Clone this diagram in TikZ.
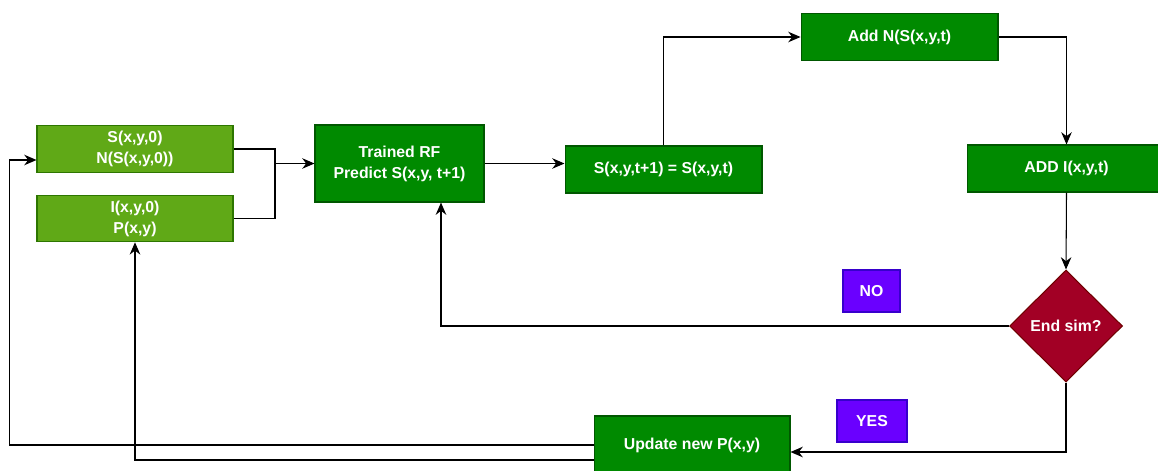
\documentclass[tikz,border=0pt]{standalone}
\usepackage{fontspec}
\setmainfont{Liberation Sans}
\usetikzlibrary{arrows.meta, shapes.geometric}

\definecolor{initgreen}{HTML}{60A917}
\definecolor{initborder}{HTML}{2D7600}
\definecolor{stepgreen}{HTML}{008A00}
\definecolor{stepborder}{HTML}{005700}
\definecolor{simred}{HTML}{A20025}
\definecolor{simborder}{HTML}{6F0000}
\definecolor{tagviolet}{HTML}{6A00FF}
\definecolor{tagborder}{HTML}{3700CC}

\begin{document}
\begin{tikzpicture}[x=0.02cm, y=-0.02cm, line width=0.6pt,
    font=\bfseries\fontsize{9}{12}\selectfont, >={Stealth[length=7pt, width=6pt]}]
    \tikzset{
      initbox/.style={draw=initborder, fill=initgreen, text=white, align=center,
        minimum width=3.92cm, minimum height=0.93cm, inner sep=1pt},
      stepbox/.style={draw=stepborder, fill=stepgreen, text=white, align=center,
        minimum width=3.94cm, minimum height=0.94cm, inner sep=1pt},
      tagbox/.style={draw=tagborder, fill=tagviolet, text=white,
        minimum height=0.84cm, inner sep=1pt},
      link/.style={draw=black, ->}
    }
    \useasboundingbox (0,0) rectangle (1158,470);

    % boxes
    \node[initbox] (sinit) at (135,149) {S(x,y,0)\\N(S(x,y,0))};
    \node[initbox] (iinit) at (135,218.5) {I(x,y,0)\\P(x,y)};
    \node[stepbox, minimum width=3.38cm, minimum height=1.54cm] (rf) at (399.5,163.5)
      {Trained RF\\Predict S(x,y, t+1)};
    \node[stepbox] (swap) at (663.5,169.5) {S(x,y,t+1) = S(x,y,t)};
    \node[stepbox] (addn) at (899.5,37) {Add N(S(x,y,t)};
    \node[stepbox, minimum width=3.97cm] (addi) at (1066.5,168.5) {ADD I(x,y,t)};
    \node[diamond, draw=simborder, fill=simred, text=white, inner sep=0pt,
      minimum width=2.26cm, minimum height=2.24cm] (endsim) at (1066,326) {End sim?};
    \node[tagbox, minimum width=1.14cm] (no) at (871.5,291) {NO};
    \node[tagbox, minimum width=1.4cm] (yes) at (872,421) {YES};
    \node[stepbox, minimum width=3.92cm, minimum height=1.16cm] (update) at (692,445)
      {Update new P(x,y)};

    % connectors
    \coordinate (join) at (275,163.5);
    \draw (sinit.east) -| (join);
    \draw (iinit.east) -| (join);
    \draw[link] (join) -- (rf.west);
    \draw[link] (rf.east) -- (swap.west |- rf.east);
    \draw[link] (swap.north) |- (addn.west);
    \draw[link] (addn.east) -| (addi.north);
    \draw[link] (addi.south) -- (endsim.north);
    \draw[link] (endsim.west) -| ([xshift=0.83cm]rf.south);
    \draw[link] (endsim.south) |- ([yshift=-0.14cm]update.east);
    \draw[link] (update.west) -| ([xshift=-0.54cm, yshift=-0.22cm]sinit.west)
      -- ([yshift=-0.22cm]sinit.west);
    \draw[link] ([yshift=-0.3cm]update.west) -| (iinit.south);
\end{tikzpicture}
\end{document}
